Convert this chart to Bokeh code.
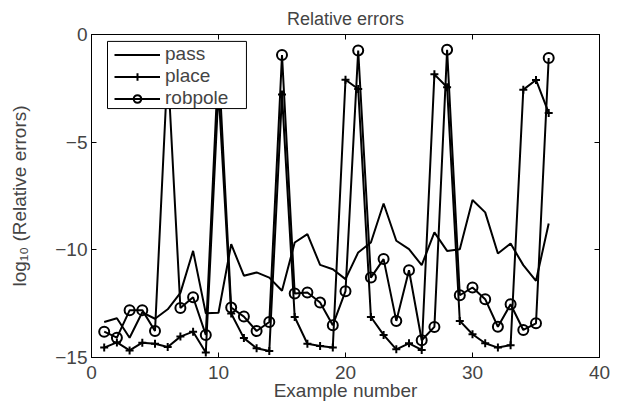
from bokeh.plotting import figure
from bokeh.models import Range1d, LinearAxis, FixedTicker, CustomJSTickFormatter, Legend, LegendItem
from bokeh.embed import file_html
from bokeh.resources import INLINE

examples = list(range(1, 37))
pass_err = [-13.35, -13.18, -14.08, -12.9, -13.2, -12.76, -12.0, -10.05, -12.95, -12.92,
            -9.74, -11.2, -11.05, -11.29, -11.9, -9.66, -9.27, -10.7, -10.9, -11.36,
            -10.12, -9.66, -7.85, -9.58, -9.97, -10.71, -9.19, -10.05, -9.97, -7.69,
            -8.26, -10.17, -9.71, -10.71, -11.44, -8.78]
place_err = [-14.54, -14.3, -14.67, -14.31, -14.36, -14.51, -14.03, -13.8, -14.77, -2.6,
             -12.96, -14.1, -14.57, -14.7, -2.79, -13.12, -14.36, -14.47, -14.54, -2.1,
             -2.53, -13.12, -13.95, -14.62, -14.34, -14.65, -1.85, -2.45, -13.3, -13.92,
             -14.34, -14.54, -14.43, -2.56, -2.11, -3.64]
robpole_err = [-13.8, -14.08, -12.81, -12.8, -13.77, -1.5, -12.7, -12.2, -13.95, -1.2,
               -12.68, -13.1, -13.77, -13.35, -0.95, -12.03, -11.98, -12.45, -13.5, -11.92,
               -0.74, -11.29, -10.43, -13.3, -10.95, -14.2, -13.58, -0.71, -12.11, -11.75,
               -12.29, -13.57, -12.53, -13.72, -13.41, -1.09]
x_ticks = [0, 10, 20, 30, 40]
y_ticks = [-15, -10, -5, 0]

FONT = "Liberation Sans"
FS = "19px"

p = figure(width=623, height=405, output_backend="svg", toolbar_location=None,
           x_range=Range1d(0, 40), y_range=Range1d(-15, 0),
           min_border_left=91, min_border_right=24, min_border_top=34, min_border_bottom=48,
           title="Relative errors")
p.title.align = "center"
p.title.text_font = FONT
p.title.text_font_size = "18px"
p.title.text_font_style = "normal"
p.title.offset = 0
p.title.standoff = 12
p.outline_line_color = "black"
p.outline_line_width = 1
p.grid.visible = False

fmt = CustomJSTickFormatter(code="return tick < 0 ? '\\u2212' + Math.abs(tick) : tick.toString();")
blank = CustomJSTickFormatter(code="return '';")

for ax, ticks in ((p.xaxis[0], x_ticks), (p.yaxis[0], y_ticks)):
    ax.ticker = FixedTicker(ticks=ticks)
    ax.formatter = fmt
    ax.major_tick_in = 5
    ax.major_tick_out = 0
    ax.minor_tick_line_color = None
    ax.major_label_text_font = FONT
    ax.major_label_text_font_size = FS
    ax.axis_label_text_font = FONT
    ax.axis_label_text_font_size = FS
    ax.axis_label_text_font_style = "normal"
    ax.axis_line_color = "black"
p.xaxis[0].axis_label = "Example number"
p.xaxis[0].axis_label_standoff = -2
p.xaxis[0].major_label_standoff = 8
p.yaxis[0].axis_label = "log\u2081\u2080 (Relative errors)"
p.yaxis[0].major_label_standoff = 4
p.yaxis[0].axis_label_standoff = 22

top = LinearAxis(ticker=FixedTicker(ticks=x_ticks), formatter=blank,
                 major_tick_in=5, major_tick_out=0, minor_tick_line_color=None)
right = LinearAxis(ticker=FixedTicker(ticks=y_ticks), formatter=blank,
                   major_tick_in=5, major_tick_out=0, minor_tick_line_color=None)
p.add_layout(top, "above")
p.add_layout(right, "right")

r_pass = p.line(examples, pass_err, line_color="black", line_width=2)
r_place_l = p.line(examples, place_err, line_color="black", line_width=2)
r_place_m = p.scatter(examples, place_err, marker="cross", size=8, line_color="black", line_width=2)
r_rob_l = p.line(examples, robpole_err, line_color="black", line_width=2)
r_rob_m = p.scatter(examples, robpole_err, marker="circle", size=10, line_color="black",
                    line_width=2, fill_color=None)

# opaque legend frame (drawn after the data so it hides what lies beneath)
p.quad(left=[1.26], right=[12.2], top=[-0.32], bottom=[-3.44],
       fill_color="white", fill_alpha=1.0, line_color="black", line_width=1)

legend = Legend(items=[
    LegendItem(label="pass", renderers=[r_pass]),
    LegendItem(label="place", renderers=[r_place_l, r_place_m]),
    LegendItem(label="robpole", renderers=[r_rob_l, r_rob_m]),
], location=(23, 248))
legend.label_text_font = FONT
legend.label_text_font_size = "19px"
legend.glyph_width = 46
legend.glyph_height = 19
legend.label_height = 19
legend.spacing = -3
legend.padding = 3
legend.margin = 0
legend.border_line_color = None
legend.background_fill_alpha = 0.0
legend.label_standoff = 5
p.add_layout(legend)

open("out.html", "w").write(file_html(p, INLINE))
